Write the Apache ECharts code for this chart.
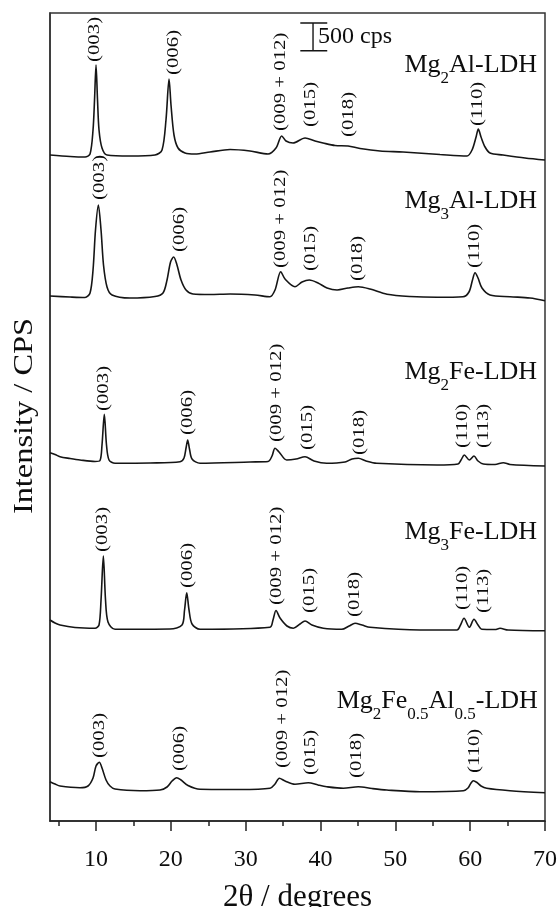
<!DOCTYPE html>
<html>
<head>
<meta charset="utf-8">
<script src="https://cdn.jsdelivr.net/npm/echarts@6/dist/echarts.min.js"></script>
<style>
  html, body { margin: 0; padding: 0; background: #fff; }
  #chart { width: 560px; height: 907px; }
</style>
</head>
<body>
<div id="chart"></div>
<script>
// ---- axis setup ----
const xRange = [3.85, 70];
const yRange = [0, 14544];
const xMajorTicks = [10, 20, 30, 40, 50, 60, 70];
const xMinorTicks = [5, 15, 25, 35, 45, 55, 65];

// ---- diffractograms, [2θ (deg), intensity (cps, stacked)] ----
const mg2al = [
  [3.85,11988],[6.53,11961],[8.53,11952],[9.20,12006],[9.60,12438],[9.80,12978],[10.00,13608],
  [10.20,12978],[10.40,12438],[10.80,12114],[11.47,11988],[14.54,11970],[17.88,11988],[18.82,12078],
  [19.35,12618],[19.76,13356],[20.02,12888],[20.42,12348],[20.96,12114],[21.89,12024],[23.23,12006],
  [25.23,12042],[27.91,12087],[30.58,12060],[32.99,12006],[34.05,12114],[34.82,12330],[35.39,12240],
  [36.33,12204],[37.93,12294],[39.27,12240],[40.34,12204],[41.94,12159],[43.68,12150],[45.28,12105],
  [47.95,12060],[51.03,12042],[55.97,11997],[59.58,11970],[60.25,12078],[60.79,12312],[61.09,12456],
  [61.45,12312],[61.99,12132],[62.65,12024],[64.39,11988],[67.33,11934],[70.00,11898]
];
const mg3al = [
  [3.85,9450],[6.53,9432],[8.53,9423],[9.20,9504],[9.60,9918],[9.93,10638],[10.31,11088],
  [10.67,10638],[11.00,10008],[11.47,9612],[12.14,9468],[14.54,9414],[17.88,9441],[18.95,9504],
  [19.49,9738],[19.96,10062],[20.38,10152],[20.82,10008],[21.36,9738],[22.03,9558],[22.96,9486],
  [25.23,9477],[27.91,9486],[31.25,9468],[33.25,9437],[33.92,9558],[34.68,9887],[35.26,9756],
  [36.59,9617],[37.53,9702],[38.50,9738],[39.67,9684],[40.87,9594],[42.21,9558],[43.68,9594],
  [45.05,9617],[46.62,9576],[48.89,9481],[51.96,9441],[55.57,9427],[59.04,9437],[59.84,9522],
  [60.31,9738],[60.65,9869],[61.05,9774],[61.58,9594],[62.65,9468],[65.32,9437],[67.99,9414],[70.00,9365]
];
const mg2fe = [
  [3.85,6629],[4.52,6597],[5.19,6557],[6.53,6525],[7.86,6498],[9.87,6471],[10.53,6489],[10.80,6768],
  [11.11,7321],[11.40,6768],[11.74,6498],[12.54,6439],[17.22,6444],[21.23,6467],[21.76,6534],
  [22.03,6714],[22.25,6858],[22.49,6696],[22.83,6516],[23.90,6439],[30.58,6462],[32.99,6471],
  [33.52,6570],[33.92,6709],[34.46,6642],[35.48,6498],[36.73,6516],[37.93,6557],[39.13,6480],
  [40.83,6439],[43.28,6462],[44.21,6516],[45.05,6529],[46.08,6480],[47.51,6439],[55.57,6408],
  [58.38,6426],[58.78,6498],[59.22,6588],[59.89,6498],[60.51,6570],[61.05,6480],[61.76,6426],
  [63.32,6417],[64.43,6449],[65.32,6417],[70.00,6390]
];
const mg3fe = [
  [3.85,3618],[4.52,3564],[5.19,3528],[7.19,3483],[9.87,3469],[10.40,3528],[10.67,3978],[10.98,4770],
  [11.27,3978],[11.60,3582],[12.54,3451],[19.89,3456],[21.49,3528],[21.83,3798],[22.12,4109],
  [22.43,3798],[22.83,3546],[23.90,3451],[33.25,3487],[33.65,3618],[34.05,3789],[34.59,3654],
  [35.52,3510],[36.37,3469],[37.26,3546],[37.93,3600],[38.86,3528],[40.38,3469],[42.84,3451],
  [43.82,3510],[44.61,3559],[45.55,3528],[46.62,3487],[53.30,3438],[58.24,3438],[58.71,3528],
  [59.18,3649],[59.89,3487],[60.51,3631],[61.05,3528],[61.54,3451],[63.32,3447],[63.99,3469],
  [65.06,3438],[70.00,3425]
];
const mg2fe05al05 = [
  [3.85,707],[4.52,666],[5.19,630],[7.86,599],[8.93,630],[9.60,774],[10.00,990],[10.44,1057],
  [10.80,954],[11.34,738],[11.87,630],[12.54,576],[15.88,545],[18.55,558],[19.49,612],[20.16,720],
  [20.78,779],[21.36,738],[22.29,639],[23.90,571],[29.24,567],[33.25,589],[33.92,666],[34.50,769],
  [35.26,720],[36.59,661],[38.37,689],[39.67,648],[40.83,617],[43.05,589],[45.05,617],[46.88,585],
  [48.85,558],[53.30,527],[59.09,545],[59.71,594],[60.11,684],[60.42,725],[60.91,693],[61.45,630],
  [62.21,589],[65.32,545],[70.00,509]
];

// ---- reflection labels: [text, 2θ, cps at the foot of the label] ----
const peaksMg2al = [['(003)',9.87,13662],['(006)',20.42,13428],['(009 + 012)',34.72,12420],['(015)',38.73,12492],['(018)',43.81,12312],['(110)',61.05,12510]];
const peaksMg3al = [['(003)',10.53,11178],['(006)',21.23,10242],['(009 + 012)',34.72,9954],['(015)',38.73,9900],['(018)',45.01,9720],['(110)',60.65,9954]];
const peaksMg2fe = [['(003)',11.07,7380],['(006)',22.29,6948],['(009 + 012)',34.19,6822],['(015)',38.33,6678],['(018)',45.28,6588],['(110)',59.04,6714],['(113)',61.85,6714]];
const peaksMg3fe = [['(003)',10.94,4842],['(006)',22.29,4194],['(009 + 012)',34.19,3888],['(015)',38.60,3744],['(018)',44.61,3672],['(110)',59.04,3798],['(113)',61.85,3744]];
const peaksMgFeAl = [['(003)',10.53,1134],['(006)',21.23,900],['(009 + 012)',34.99,954],['(015)',38.73,828],['(018)',44.88,774],['(110)',60.65,864]];

// ---- sample names (rich text, {s|..} = subscript) and their right-edge anchors ----
const sampleNames = ['Mg{s|2}Al-LDH', 'Mg{s|3}Al-LDH', 'Mg{s|2}Fe-LDH', 'Mg{s|3}Fe-LDH', 'Mg{s|2}Fe{s|0.5}Al{s|0.5}-LDH'];
const sampleNameAnchors = [[68.95,13604],[68.95,11156],[68.95,8078],[68.95,5198],[69.05,2156]];

// ---- 500 cps scale bar ----
const scaleBarX = [37.3, 39.0, 40.9];      // left cap, stem, right cap (2θ)
const scaleBarCps = [13864, 14364];        // bottom, top
const scaleBarText = '500 cps';
const scaleBarTextAnchor = [39.67, 14112];

const SERIF = '"Liberation Serif", "Times New Roman", serif';
const INK = '#151515';
const TEXT = '#0d0d0d';

const traces = [mg2al, mg3al, mg2fe, mg3fe, mg2fe05al05];
const peakSets = [peaksMg2al, peaksMg3al, peaksMg2fe, peaksMg3fe, peaksMgFeAl];

const chart = echarts.init(document.getElementById('chart'), null, { renderer: 'canvas' });

const series = traces.map(d => ({
  type: 'line',
  data: d,
  showSymbol: false,
  smooth: 0.3,
  lineStyle: { color: INK, width: 1.6 },
  silent: true,
  z: 3
}));

const [bl, bs, br] = scaleBarX;
const [bBot, bTop] = scaleBarCps;
series.push({
  type: 'line',
  data: [[bl, bTop], [br, bTop], [br, '-'], [bs, bTop], [bs, bBot], [bs, '-'], [bl, bBot], [br, bBot]],
  showSymbol: false,
  connectNulls: false,
  lineStyle: { color: INK, width: 1.4 },
  silent: true
});

chart.setOption({
  animation: false,
  backgroundColor: '#fff',
  grid: {
    left: 50, right: 15, top: 13, bottom: 86,
    outerBoundsMode: 'none', containLabel: false,
    show: true, borderColor: '#333', borderWidth: 1.5
  },
  xAxis: [
    {
      type: 'value', min: xRange[0], max: xRange[1], position: 'bottom',
      axisLine: { show: true, lineStyle: { color: '#222', width: 1.5 } },
      axisTick: { show: true, customValues: xMajorTicks, length: 10, lineStyle: { color: '#222', width: 1.5 } },
      axisLabel: { show: true, customValues: xMajorTicks, margin: 27, fontSize: 24, fontFamily: SERIF, color: TEXT },
      splitLine: { show: false },
      name: '2θ / degrees', nameLocation: 'middle', nameGap: 61,
      nameTextStyle: { fontSize: 31, fontFamily: SERIF, color: TEXT }
    },
    {
      type: 'value', min: xRange[0], max: xRange[1], position: 'bottom',
      axisLine: { show: false },
      axisTick: { show: true, customValues: xMinorTicks, length: 5, lineStyle: { color: '#222', width: 1.5 } },
      axisLabel: { show: false },
      splitLine: { show: false }
    }
  ],
  yAxis: {
    type: 'value', min: yRange[0], max: yRange[1],
    axisLine: { show: true, lineStyle: { color: '#333', width: 1.5 } },
    axisTick: { show: false }, axisLabel: { show: false }, splitLine: { show: false }
  },
  series
});

// Text placed at data anchors through the chart's own scales
const toPx = p => chart.convertToPixel({ xAxisIndex: 0, yAxisIndex: 0 }, p);
const graphics = [];

peakSets.forEach(set => set.forEach(([txt, tt, c]) => {
  const [px, py] = toPx([tt, c]);
  graphics.push({
    type: 'text', x: px, y: py, rotation: Math.PI / 2, scaleX: 1.3, scaleY: 1,
    silent: true,
    style: { text: txt, font: '16px ' + SERIF, fill: TEXT, align: 'left', verticalAlign: 'middle' }
  });
}));

sampleNames.forEach((nm, i) => {
  const [px, py] = toPx(sampleNameAnchors[i]);
  graphics.push({
    type: 'text', x: px, y: py, silent: true,
    style: {
      text: nm, font: '26px ' + SERIF, fill: TEXT, align: 'right', verticalAlign: 'middle',
      rich: {
        s: { fontSize: 17, fontFamily: SERIF, fill: TEXT, padding: [26, 0, 0, 0], verticalAlign: 'bottom' }
      }
    }
  });
});

{
  const [px, py] = toPx(scaleBarTextAnchor);
  graphics.push({
    type: 'text', x: px, y: py, silent: true,
    style: { text: scaleBarText, font: '24px ' + SERIF, fill: TEXT, align: 'left', verticalAlign: 'middle' }
  });
}

// vertical axis title
graphics.push({
  type: 'text', x: 25, y: 416, rotation: Math.PI / 2, scaleX: 1.2, silent: true,
  style: { text: 'Intensity / CPS', font: '27px ' + SERIF, fill: TEXT, align: 'center', verticalAlign: 'middle' }
});

chart.setOption({ graphic: { elements: graphics } });
</script>
</body>
</html>
